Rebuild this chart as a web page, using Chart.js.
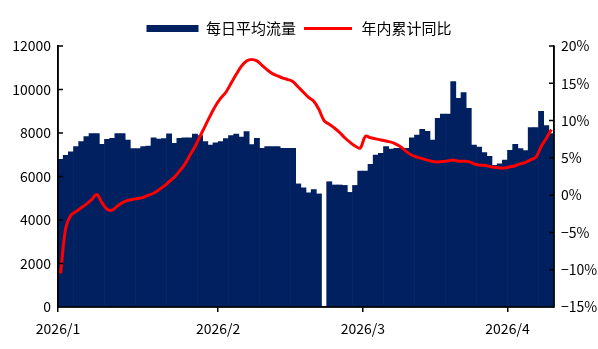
<!DOCTYPE html>
<html>
<head>
<meta charset="utf-8">
<script src="https://cdn.jsdelivr.net/npm/chart.js@4/dist/chart.umd.min.js"></script>
<style>
  html, body { margin: 0; padding: 0; background: #fff; }
  #wrap { width: 598px; height: 349px; }
</style>
</head>
<body>
<div id="wrap"><canvas id="flow"></canvas></div>
<script>
// daily average flow, one value per day (null = no data)
const flowValues = [
  6790, 6970, 7140, 7370, 7600, 7830, 7970, 7970, 7480, 7710,
  7750, 7970, 7970, 7680, 7280, 7280, 7380, 7400, 7780, 7720,
  7740, 7960, 7520, 7760, 7780, 7780, 7950, 7880, 7600, 7450,
  7550, 7600, 7740, 7880, 7950, 7810, 8070, 7470, 7750, 7290,
  7370, 7370, 7370, 7290, 7290, 7290, 5660, 5480, 5250, 5400,
  5200, null, 5760, 5610, 5610, 5590, 5270, 5590, 6250, 6250,
  6560, 6990, 7060, 7370, 7260, 7300, 7300, 7300, 7780, 7900,
  8170, 8080, 7680, 8670, 8870, 8870, 10360, 9590, 9860, 9130,
  7450, 7350, 7100, 6930, 6510, 6580, 6760, 7200, 7480, 7280,
  7190, 8250, 8250, 9000, 8340, 7970
];

// cumulative year-on-year change, %
const yoyValues = [
  -10.5, -4.4, -2.7, -2.2, -1.7, -1.2, -0.6, 0.1, -1.0, -1.9,
  -2.0, -1.45, -1.0, -0.7, -0.55, -0.45, -0.3, 0.0, 0.25, 0.7,
  1.2, 1.8, 2.4, 3.2, 4.1, 5.3, 6.5, 7.9, 9.3, 10.7,
  12.0, 13.0, 13.8, 15.0, 16.2, 17.3, 18.0, 18.2, 18.0, 17.4,
  16.8, 16.3, 16.0, 15.7, 15.5, 15.2, 14.5, 13.8, 13.1, 12.6,
  11.5, 10.0, 9.5, 9.0, 8.4, 7.7, 7.1, 6.6, 6.3, 7.9,
  7.7, 7.55, 7.4, 7.25, 7.1, 6.8, 6.4, 5.8, 5.35, 5.1,
  4.9, 4.7, 4.5, 4.45, 4.5, 4.6, 4.7, 4.55, 4.55, 4.5,
  4.2, 4.05, 4.0, 3.85, 3.75, 3.65, 3.65, 3.8, 3.95, 4.2,
  4.4, 4.75, 5.1, 6.5, 7.6, 8.8
];

// day index where each month label sits
const monthTicks = [0, 31, 59, 87];
const monthLabels = ["2026/1", "2026/2", "2026/3", "2026/4"];

const flowTicks = [0, 2000, 4000, 6000, 8000, 10000, 12000];
const yoyTicks = [-15, -10, -5, 0, 5, 10, 15, 20];

const NAVY = "#002060";
const RED = "#FF0000";

Chart.defaults.font.family = '"Noto Sans CJK SC", "Noto Sans", sans-serif';
Chart.defaults.color = "#000";

// axis lines and inward tick marks, drawn over the bars
const axisMarks = {
  id: "axisMarks",
  afterDatasetsDraw(chart) {
    const { ctx, chartArea: a, scales } = chart;
    ctx.save();
    ctx.strokeStyle = "#000";
    ctx.lineWidth = 1.5;
    ctx.beginPath();
    ctx.moveTo(a.left, a.top);
    ctx.lineTo(a.left, a.bottom);
    ctx.lineTo(a.right, a.bottom);
    ctx.moveTo(a.right, a.top);
    ctx.lineTo(a.right, a.bottom);
    scales.y.ticks.forEach(t => {
      const y = scales.y.getPixelForValue(t.value);
      ctx.moveTo(a.left, y);
      ctx.lineTo(a.left + 5, y);
    });
    scales.y1.ticks.forEach(t => {
      const y = scales.y1.getPixelForValue(t.value);
      ctx.moveTo(a.right - 5, y);
      ctx.lineTo(a.right, y);
    });
    ctx.stroke();
    ctx.restore();
  }
};

new Chart(document.getElementById("flow"), {
  data: {
    datasets: [
      {
        type: "bar",
        label: "每日平均流量",
        data: flowValues.map((v, i) => ({ x: i + 0.5, y: v })),
        backgroundColor: NAVY,
        borderWidth: 0,
        barPercentage: 1,
        categoryPercentage: 1,
        yAxisID: "y",
        order: 1
      },
      {
        type: "line",
        label: "年内累计同比",
        data: yoyValues.map((v, i) => ({ x: i + 0.5, y: v })),
        borderColor: RED,
        backgroundColor: RED,
        borderWidth: 3,
        pointRadius: 0,
        tension: 0.35,
        yAxisID: "y1",
        order: 0
      }
    ]
  },
  options: {
    responsive: true,
    maintainAspectRatio: false,
    animation: false,
    layout: { padding: { top: 15, left: 0, right: 0, bottom: 0 } },
    plugins: {
      tooltip: { enabled: false },
      legend: {
        position: "top",
        align: "center",
        labels: {
          boxWidth: 52,
          boxHeight: 7,
          padding: 6,
          color: "#000",
          font: { size: 15 },
          generateLabels(chart) {
            const items = Chart.defaults.plugins.legend.labels.generateLabels(chart);
            items.forEach(it => {
              if (chart.data.datasets[it.datasetIndex].type === "line") {
                it.fillStyle = RED;
                it.strokeStyle = "#fff";
                it.lineWidth = 4;
              } else {
                it.lineWidth = 0;
              }
            });
            return items.sort((a, b) => a.datasetIndex - b.datasetIndex);
          }
        }
      }
    },
    scales: {
      x: {
        type: "linear",
        min: 0,
        max: flowValues.length,
        offset: false,
        grid: { display: true, drawOnChartArea: false, drawTicks: true, tickLength: 5, color: "#000", lineWidth: 1.5, offset: false },
        border: { display: true, color: "#000", width: 1.5 },
        afterBuildTicks(scale) {
          scale.ticks = monthTicks.map(v => ({ value: v }));
        },
        ticks: {
          autoSkip: false,
          maxRotation: 0,
          padding: 8,
          font: { size: 14 },
          callback: v => monthLabels[monthTicks.indexOf(v)]
        },
        afterFit(scale) { scale.height = 42; }
      },
      y: {
        position: "left",
        min: 0,
        max: 12000,
        grid: { display: false, drawTicks: false },
        border: { display: true, color: "#000", width: 1.5 },
        afterBuildTicks(scale) {
          scale.ticks = flowTicks.map(v => ({ value: v }));
        },
        ticks: { padding: 7, font: { size: 14 }, callback: v => String(v) },
        afterFit(scale) { scale.width = 58; }
      },
      y1: {
        position: "right",
        min: -15,
        max: 20,
        grid: { display: false, drawTicks: false },
        border: { display: true, color: "#000", width: 1.5 },
        afterBuildTicks(scale) {
          scale.ticks = yoyTicks.map(v => ({ value: v }));
        },
        ticks: {
          padding: 7,
          font: { size: 14 },
          callback: v => (v < 0 ? "\u2212" + Math.abs(v) : v) + "%"
        },
        afterFit(scale) { scale.width = 44; }
      }
    }
  },
  plugins: [axisMarks]
});
</script>
</body>
</html>
